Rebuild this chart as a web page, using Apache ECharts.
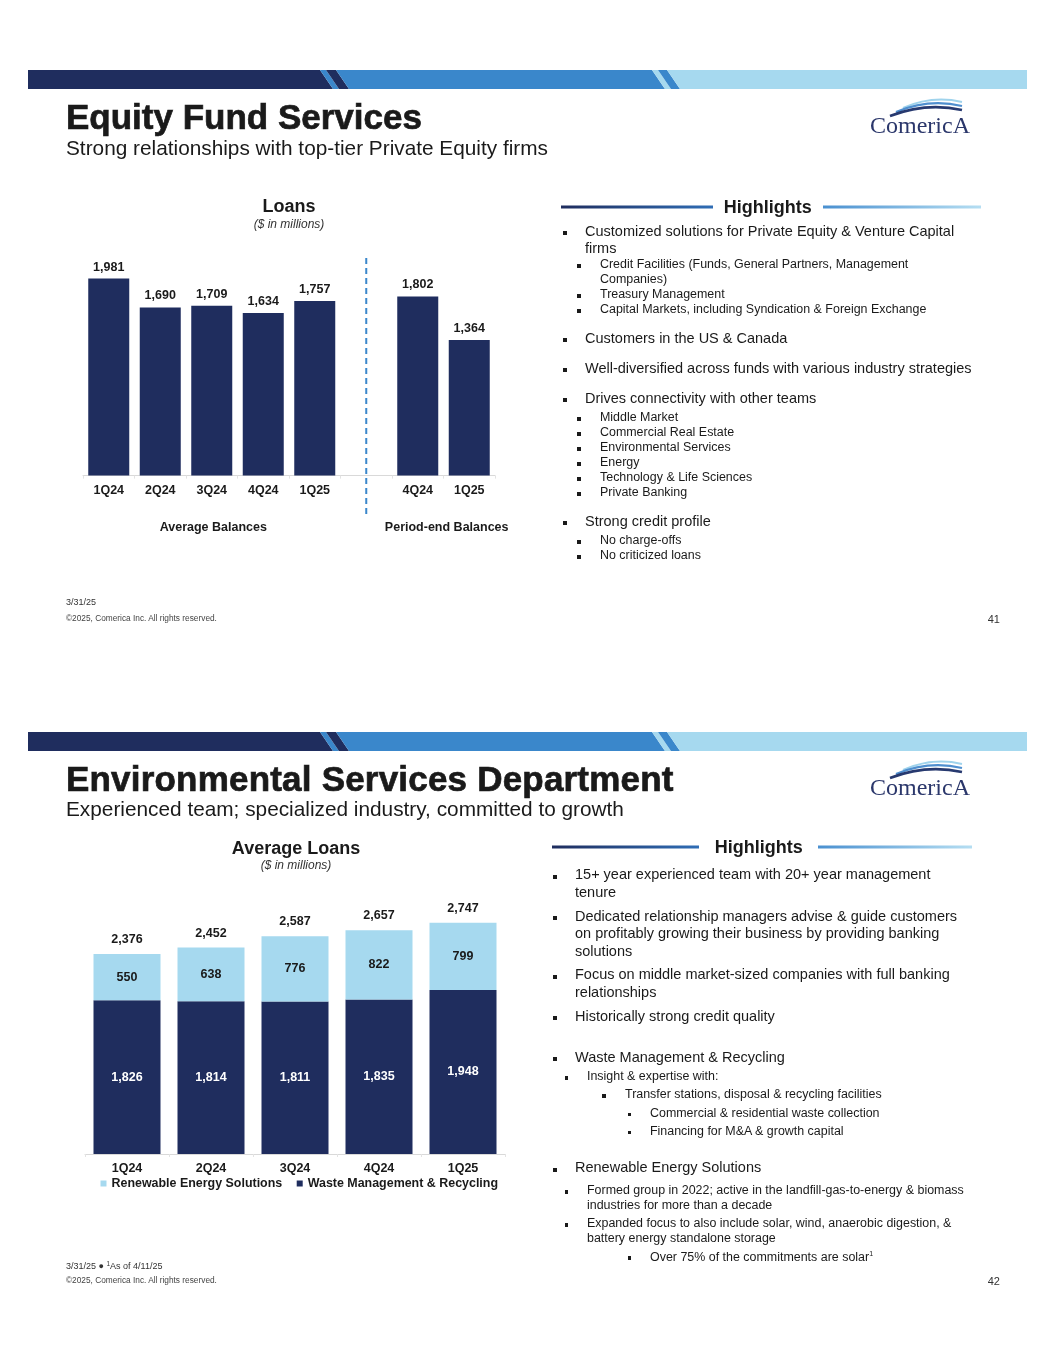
<!DOCTYPE html>
<html><head><meta charset="utf-8">
<script src="https://cdn.jsdelivr.net/npm/echarts/dist/echarts.min.js"></script>
<style>
html,body{margin:0;padding:0;background:#fff;}
#page{position:relative;width:1055px;height:1365px;overflow:hidden;font-family:"Liberation Sans",Arial,sans-serif;color:#1a1a1a;}
#chart{position:absolute;left:0;top:0;width:1055px;height:1365px;}
#overlay{position:absolute;left:0;top:0;width:1055px;height:1365px;pointer-events:none;}
.t{position:absolute;white-space:nowrap;line-height:1;}
.b{position:absolute;background:#1a1a1a;}
.ttl{-webkit-text-stroke:0.7px #1a1a1a;}
</style></head>
<body>
<div id="page"><div id="chart"></div><div id="overlay"></div></div>
<script>
// ---------- data ----------
const avgQuarters = ['1Q24','2Q24','3Q24','4Q24','1Q25'];
const avgLoans = [1981,1690,1709,1634,1757];
const periodEndQuarters = ['4Q24','1Q25'];
const periodEndLoans = [1802,1364];
const envQuarters = ['1Q24','2Q24','3Q24','4Q24','1Q25'];
const wasteMgmt = [1826,1814,1811,1835,1948];
const renewable = [550,638,776,822,799];
const envTotals = [2376,2452,2587,2657,2747];
const envSeriesNames = ['Renewable Energy Solutions','Waste Management & Recycling'];

const loanCats = [...avgQuarters, '', ...periodEndQuarters];
const loanVals = [...avgLoans, null, ...periodEndLoans];

const navy = '#1f2d5e', mid = '#3a87cb', light = '#a6d9ef';
const fmt = v => Number(v).toLocaleString('en-US');
const lbl = {fontFamily:'Liberation Sans, Arial, sans-serif', fontWeight:'bold', fontSize:12.5, color:'#1a1a1a'};

const chart = echarts.init(document.getElementById('chart'), null, {renderer:'canvas'});
const axisCommon = {
  type:'category',
  axisLine:{lineStyle:{color:'#d9d9d9', width:1}},
  axisTick:{show:true, length:3, lineStyle:{color:'#e3e3e3'}},
  axisLabel:Object.assign({margin:8}, lbl)
};
chart.setOption({
  animation:false,
  grid:[{left:83, top:227, width:412, height:248.6}, {left:85, top:901.5, width:420, height:252.5}],
  xAxis:[Object.assign({gridIndex:0, data:loanCats}, axisCommon), Object.assign({gridIndex:1, data:envQuarters}, axisCommon)],
  yAxis:[{type:'value', gridIndex:0, min:0, max:2500, show:false}, {type:'value', gridIndex:1, min:0, max:3000, show:false}],
  legend:{left:95.5, top:1172.5, itemWidth:6, itemHeight:6, itemGap:14.5, icon:'rect', selectedMode:false,
          data:envSeriesNames, textStyle:Object.assign({}, lbl, {fontSize:12.45})},
  series:[
    {type:'bar', name:'Loans', xAxisIndex:0, yAxisIndex:0, data:loanVals, barWidth:41,
     itemStyle:{color:navy}, label:Object.assign({show:true, position:'top', distance:5, formatter:p=>fmt(p.value)}, lbl)},
    {type:'bar', name:envSeriesNames[1], xAxisIndex:1, yAxisIndex:1, stack:'env', data:wasteMgmt, barWidth:67,
     itemStyle:{color:navy}, label:Object.assign({show:true, position:'inside', formatter:p=>fmt(p.value)}, lbl, {color:'#ffffff'})},
    {type:'bar', name:envSeriesNames[0], xAxisIndex:1, yAxisIndex:1, stack:'env', data:renewable, barWidth:67,
     itemStyle:{color:light}, label:Object.assign({show:true, position:'inside', formatter:p=>fmt(p.value)}, lbl)},
    {type:'scatter', name:'Total', xAxisIndex:1, yAxisIndex:1, data:envTotals, symbolSize:0, silent:true,
     itemStyle:{opacity:1, color:navy},
     label:Object.assign({show:true, position:'top', distance:8, formatter:p=>fmt(p.value)}, lbl)}
  ]
});
// dashed divider between average and period-end groups
const xa = chart.convertToPixel({xAxisIndex:0}, avgQuarters.length-1);
const xb = chart.convertToPixel({xAxisIndex:0}, avgQuarters.length+1);
const xm = (xa+xb)/2;
chart.setOption({graphic:[{type:'line', shape:{x1:xm,y1:258,x2:xm,y2:514}, style:{stroke:mid, lineWidth:2, lineDash:[6,4]}}]});

// ---------- overlay text & decoration ----------
const ov = document.getElementById('overlay');
function T(x,y,fs,txt,o){o=o||{};const d=document.createElement('div');d.className='t'+(o.cls?' '+o.cls:'');
  d.style.left=x+'px';d.style.top=(y-0.587*fs)+'px';d.style.fontSize=fs+'px';
  if(o.b)d.style.fontWeight='bold';if(o.i)d.style.fontStyle='italic';
  if(o.c)d.style.transform='translateX(-50%)';if(o.r)d.style.transform='translateX(-100%)';
  if(o.col)d.style.color=o.col;if(o.ls)d.style.letterSpacing=o.ls;if(o.ff)d.style.fontFamily=o.ff;
  d.innerHTML=txt;ov.appendChild(d);return d;}
function B(x,y,s){const d=document.createElement('div');d.className='b';d.style.left=(x-s/2)+'px';d.style.top=(y-s/2)+'px';d.style.width=s+'px';d.style.height=s+'px';ov.appendChild(d);}

const NS='http://www.w3.org/2000/svg';
const svg=document.createElementNS(NS,'svg');svg.setAttribute('width',1055);svg.setAttribute('height',1365);
svg.style.position='absolute';svg.style.left='0';svg.style.top='0';
svg.innerHTML='<defs><linearGradient id="gl" x1="0" x2="1" y1="0" y2="0"><stop offset="0" stop-color="#1f2d5e"/><stop offset="1" stop-color="#2f6db5"/></linearGradient>'+
 '<linearGradient id="gr" x1="0" x2="1" y1="0" y2="0"><stop offset="0" stop-color="#4a90d0"/><stop offset="1" stop-color="#b5def2"/></linearGradient></defs>';
ov.appendChild(svg);
function P(pts,col){const p=document.createElementNS(NS,'polygon');p.setAttribute('points',pts.map(a=>a.join(',')).join(' '));p.setAttribute('fill',col);svg.appendChild(p);}
function header(dy){
  const a=70+dy,b=89+dy;
  P([[28,a],[320,a],[333,b],[28,b]],navy);
  P([[320,a],[326,a],[339,b],[333,b]],mid);
  P([[326,a],[336,a],[349,b],[339,b]],navy);
  P([[336,a],[652,a],[665,b],[349,b]],mid);
  P([[652,a],[658,a],[671,b],[665,b]],light);
  P([[658,a],[667,a],[680,b],[671,b]],mid);
  P([[667,a],[1027,a],[1027,b],[680,b]],light);
}
function logo(dy){
  const g=document.createElementNS(NS,'g');
  g.innerHTML='<path d="M903,108 Q932,95 962,102" stroke="#9fd3ec" stroke-width="2" fill="none"/>'+
   '<path d="M896,112 Q929,98 962,106" stroke="#4f8fcf" stroke-width="2.2" fill="none"/>'+
   '<path d="M890,116 Q926,102 962,110" stroke="#27396f" stroke-width="2.6" fill="none"/>';
  g.setAttribute('transform','translate(0,'+dy+')');svg.appendChild(g);
  const d=document.createElement('div');d.className='t';d.style.left='870px';d.style.top=(113+dy)+'px';
  d.style.fontSize='24px';d.style.fontFamily='"Liberation Serif","DejaVu Serif",serif';d.style.color='#2b376b';
  d.textContent='ComericA';ov.appendChild(d);
}
function hlHeader(y,l1,l2,cx,r1,r2){
  const l=document.createElementNS(NS,'rect');l.setAttribute('x',l1);l.setAttribute('y',y-1.5);l.setAttribute('width',l2-l1);l.setAttribute('height',3);l.setAttribute('fill','url(#gl)');svg.appendChild(l);
  const r=document.createElementNS(NS,'rect');r.setAttribute('x',r1);r.setAttribute('y',y-1.5);r.setAttribute('width',r2-r1);r.setAttribute('height',3);r.setAttribute('fill','url(#gr)');svg.appendChild(r);
  T(cx,y+1.5,18,'Highlights',{b:1,c:1});
}
function bullets(list,lv){list.forEach(it=>{const L=lv[it[0]];T(L.tx,it[1],L.fs,it[2]);if(it[3])B(L.bx,it[1]+0.5,L.bs);});}

// ----- slide 1 -----
header(0); logo(0);
T(66,120,35,'Equity Fund Services',{b:1,cls:'ttl'});
T(66,150,20.8,'Strong relationships with top-tier Private Equity firms');
T(289,208,18,'Loans',{b:1,c:1});
T(289,225,12,'($ in millions)',{i:1,c:1,col:'#333'});
T(213.3,528.5,12.5,'Average Balances',{b:1,c:1});
T(446.7,528.5,12.5,'Period-end Balances',{b:1,c:1});
hlHeader(207,561,713,767.7,823,981);
const lv1=[{bx:564.5,tx:585,fs:14.5,bs:4},{bx:579,tx:600,fs:12.45,bs:3.5}];
bullets([
 [0,232.3,'Customized solutions for Private Equity &amp; Venture Capital',1],
 [0,249.3,'firms',0],
 [1,265.7,'Credit Facilities (Funds, General Partners, Management',1],
 [1,280.3,'Companies)',0],
 [1,295.7,'Treasury Management',1],
 [1,310.7,'Capital Markets, including Syndication &amp; Foreign Exchange',1],
 [0,339.3,'Customers in the US &amp; Canada',1],
 [0,369.3,'Well-diversified across funds with various industry strategies',1],
 [0,399.3,'Drives connectivity with other teams',1],
 [1,418.7,'Middle Market',1],[1,433.7,'Commercial Real Estate',1],[1,448.7,'Environmental Services',1],
 [1,463.7,'Energy',1],[1,478.7,'Technology &amp; Life Sciences',1],[1,493.7,'Private Banking',1],
 [0,522.3,'Strong credit profile',1],
 [1,541.7,'No charge-offs',1],[1,556.7,'No criticized loans',1]
],lv1);
T(66,603,9,'3/31/25',{col:'#333'});
T(66,618.5,8.3,'©2025, Comerica Inc. All rights reserved.',{col:'#444'});
T(1000,620.5,11,'41',{r:1,col:'#333'});

// ----- slide 2 -----
header(662); logo(662);
T(66,782,35,'Environmental Services Department',{b:1,cls:'ttl',ls:'0.2px'});
T(66,811,20.8,'Experienced team; specialized industry, committed to growth');
T(296,850,18,'Average Loans',{b:1,c:1});
T(296,866.5,12,'($ in millions)',{i:1,c:1,col:'#333'});
hlHeader(847,552,699,758.7,818,972);
const lv2=[{bx:555,tx:575,fs:14.5,bs:4},{bx:566.5,tx:587,fs:12.45,bs:3.5},{bx:604,tx:625,fs:12.45,bs:3.5},{bx:629.5,tx:650,fs:12.45,bs:3.5}];
bullets([
 [0,876,'15+ year experienced team with 20+ year management',1],
 [0,893.3,'tenure',0],
 [0,917.3,'Dedicated relationship managers advise &amp; guide customers',1],
 [0,935,'on profitably growing their business by providing banking',0],
 [0,952.3,'solutions',0],
 [0,976,'Focus on middle market-sized companies with full banking',1],
 [0,993.3,'relationships',0],
 [0,1017.3,'Historically strong credit quality',1],
 [0,1058.3,'Waste Management &amp; Recycling',1],
 [1,1077.7,'Insight &amp; expertise with:',1],
 [2,1095.7,'Transfer stations, disposal &amp; recycling facilities',1],
 [3,1114,'Commercial &amp; residential waste collection',1],
 [3,1132,'Financing for M&amp;A &amp; growth capital',1],
 [0,1169,'Renewable Energy Solutions',1],
 [1,1191.7,'Formed group in 2022; active in the landfill-gas-to-energy &amp; biomass',1],
 [1,1206.3,'industries for more than a decade',0],
 [1,1224.7,'Expanded focus to also include solar, wind, anaerobic digestion, &amp;',1],
 [1,1239.3,'battery energy standalone storage',0],
 [3,1257.3,'Over 75% of the commitments are solar<span style="font-size:7px;vertical-align:5px">1</span>',1]
],lv2);
T(66,1266,9,'3/31/25 ● <span style="font-size:6.5px;vertical-align:3px">1</span>As of 4/11/25',{col:'#333'});
T(66,1280.5,8.3,'©2025, Comerica Inc. All rights reserved.',{col:'#444'});
T(1000,1282.5,11,'42',{r:1,col:'#333'});
</script>
</body></html>
